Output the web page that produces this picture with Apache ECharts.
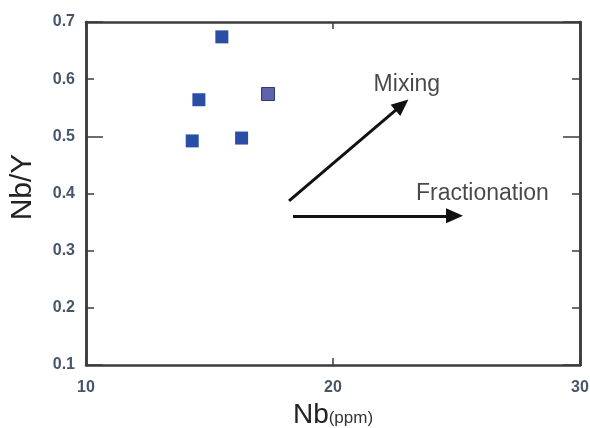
<!DOCTYPE html>
<html><head><meta charset="utf-8">
<script src="https://cdn.jsdelivr.net/npm/echarts@6/dist/echarts.min.js"></script>
<style>html,body{margin:0;padding:0;background:#fff}#c{width:590px;height:428px}</style>
</head><body><div id="c"></div>
<script>
// Data
var nbValues = [15.5, 14.57, 14.3, 16.3];
var nbyValues = [0.674, 0.564, 0.492, 0.497];
var nbOdd = [17.37];
var nbyOdd = [0.574];
var mixingArrow = [[18.22, 0.387], [22.79, 0.555]];
var fractionationArrow = [[18.38, 0.361], [24.92, 0.361]];
var labelNames = ['Mixing', 'Fractionation'];
var labelPos = [[22.99, 0.591], [26.05, 0.399]];
var xTicks = [10, 20, 30];
var yTicks = [0.1, 0.2, 0.3, 0.4, 0.5, 0.6, 0.7];

var axisColor = '#3c3c3c';
var labelColor = '#46566a';
var font = 'Liberation Sans, Arial';
var chart = echarts.init(document.getElementById('c'));
function yAx(pos, interval, len, showLabel) {
  return {
    type: 'value', position: pos, min: yTicks[0], max: yTicks[yTicks.length - 1], interval: interval,
    axisLine: {show: true, onZero: false, lineStyle: {color: axisColor, width: 2.5}},
    axisTick: {show: true, inside: true, length: len, lineStyle: {color: axisColor, width: 1.5}},
    axisLabel: {show: showLabel, color: labelColor, fontWeight: 'bold', fontSize: 16, fontFamily: font, margin: 11},
    splitLine: {show: false}
  };
}
var opt = {
  animation: false,
  grid: {left: 86, top: 22, right: 10, bottom: 63, containLabel: false, outerBoundsMode: 'none'},
  xAxis: [{
    type: 'value', position: 'bottom', min: xTicks[0], max: xTicks[2], interval: 10,
    axisLine: {show: true, onZero: false, lineStyle: {color: axisColor, width: 2.5}},
    axisTick: {show: true, inside: true, length: 7, lineStyle: {color: axisColor, width: 1.5}},
    axisLabel: {color: labelColor, fontWeight: 'bold', fontSize: 16, fontFamily: font, margin: 15},
    splitLine: {show: false},
    name: '{a|Nb}{b|(ppm)}', nameLocation: 'middle', nameGap: 33,
    nameTextStyle: {rich: {a: {fontSize: 28, color: '#222', fontFamily: font}, b: {fontSize: 17, color: '#333', fontFamily: font, padding: [7, 0, 0, 0]}}}
  }, {
    type: 'value', position: 'top', min: xTicks[0], max: xTicks[2], interval: 10,
    axisLine: {show: true, onZero: false, lineStyle: {color: axisColor, width: 2.5}},
    axisTick: {show: true, inside: true, length: 7, lineStyle: {color: axisColor, width: 1.5}},
    axisLabel: {show: false}, splitLine: {show: false}
  }],
  yAxis: [
    Object.assign(yAx('left', 0.1, 8, true), {name: 'Nb/Y', nameLocation: 'middle', nameGap: 48,
      nameTextStyle: {fontSize: 30, color: '#222', fontFamily: font, padding: [0, 0, 0, 13]}}),
    yAx('left', 0.4, 17, false),
    yAx('right', 0.1, 8, false),
    yAx('right', 0.4, 17, false)
  ],
  series: [{
    type: 'scatter', symbol: 'rect', symbolSize: 13,
    itemStyle: {color: '#2a4ea6', opacity: 1},
    data: nbValues.map(function (v, i) { return [v, nbyValues[i]]; })
  }, {
    type: 'scatter', symbol: 'rect', symbolSize: 13,
    itemStyle: {color: '#5c62ac', borderColor: '#34386e', borderWidth: 1, opacity: 1},
    data: nbOdd.map(function (v, i) { return [v, nbyOdd[i]]; })
  }, {
    type: 'line', data: [], silent: true,
    markLine: {
      silent: true, symbol: ['none', 'triangle'], symbolSize: [15, 17],
      lineStyle: {color: '#111', width: 3, type: 'solid'}, label: {show: false},
      data: [
        [{coord: mixingArrow[0]}, {coord: mixingArrow[1]}],
        [{coord: fractionationArrow[0]}, {coord: fractionationArrow[1]}]
      ]
    }
  }, {
    type: 'scatter', symbolSize: 0, silent: true,
    label: {show: true, position: 'inside', formatter: '{b}', color: '#1a1a1a', fontSize: 23, fontFamily: font},
    data: labelNames.map(function (n, i) { return {name: n, value: labelPos[i]}; })
  }]
};
chart.setOption(opt);
</script></body></html>
